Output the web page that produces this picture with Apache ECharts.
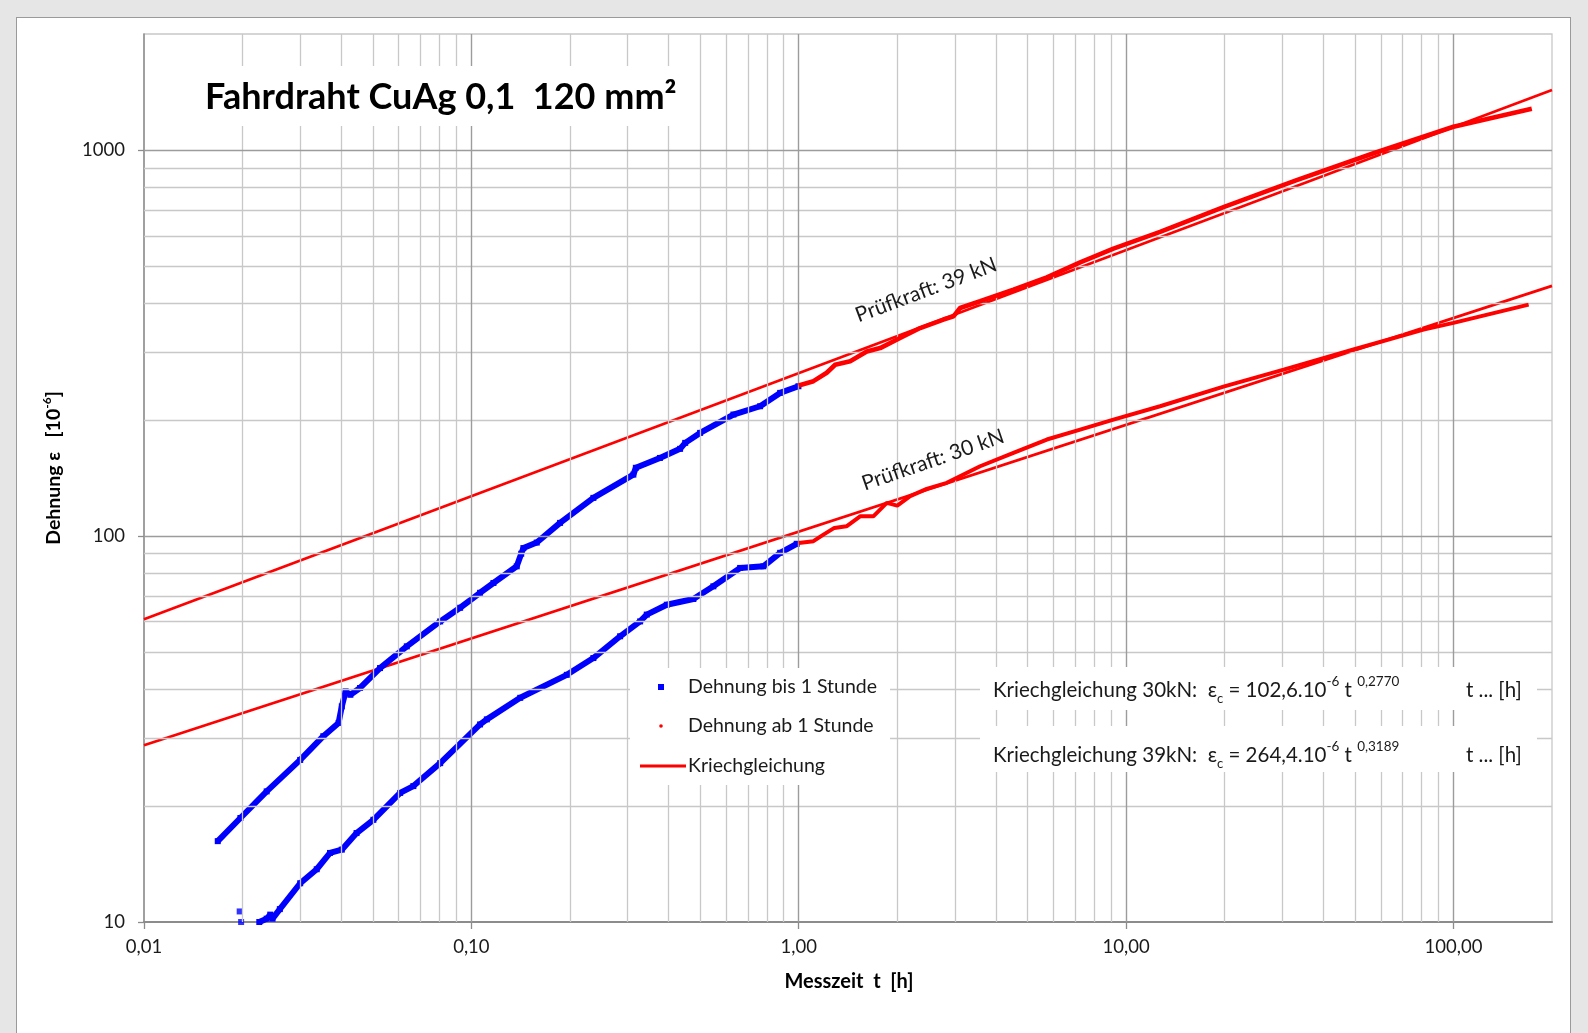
<!DOCTYPE html>
<html><head><meta charset="utf-8">
<script src="https://cdn.jsdelivr.net/npm/echarts@6/dist/echarts.min.js"></script>
<style>
html,body{margin:0;padding:0;width:1588px;height:1033px;overflow:hidden;background:#e6e6e6;}
#panel{position:absolute;left:16px;top:17px;width:1553px;height:1030px;background:#fff;border:1px solid #9a9a9a;}
#chart{position:absolute;left:0;top:0;width:1588px;height:1033px;}
</style></head><body>
<div id="panel"></div><div id="chart"></div>
<script>
// ---- axis ticks / labels ----
const xTicks = [0.01, 0.1, 1, 10, 100];
const xTickLabels = ['0,01', '0,10', '1,00', '10,00', '100,00'];
const yTicks = [10, 100, 1000];
const yTickLabels = ['10', '100', '1000'];
const xMinor = [0.02,0.03,0.04,0.05,0.06,0.07,0.08,0.09,0.2,0.3,0.4,0.5,0.6,0.7,0.8,0.9,2,3,4,5,6,7,8,9,20,30,40,50,60,70,80,90];
const xMajor = [0.1, 1, 10, 100];
const yMinor = [20,30,40,50,60,70,80,90,200,300,400,500,600,700,800,900];
const yMajor = [100, 1000];

// ---- data: [t (h), strain (1e-6)] ----
const blue39 = [[0.0168,16.2],[0.0197,18.6],[0.0237,21.8],[0.0300,26.3],[0.0353,30.3],[0.0393,32.8],[0.0402,36.2],[0.0413,39.6],[0.0427,38.8],[0.0457,40.4],[0.0526,45.5],[0.0635,51.8],[0.0803,60.1],[0.0924,65.2],[0.1063,71.3],[0.1168,75.6],[0.1376,83.5],[0.1420,90.0],[0.1442,93.1],[0.1584,96.2],[0.1866,108.2],[0.2359,125.6],[0.3125,144.3],[0.3180,150.3],[0.3767,159.4],[0.4341,168.3],[0.4500,174.4],[0.4997,185.1],[0.6317,206.5],[0.7621,217.0],[0.8774,235.0],[0.998,244.5]];
const blue30start = [[0.0196,10.65],[0.0198,10.0]];
const blue30 = [[0.0225,10.0],[0.0237,10.2],[0.0243,10.45],[0.0247,10.2],[0.0260,10.8],[0.0300,12.6],[0.0337,13.7],[0.0370,15.1],[0.0402,15.4],[0.0446,17.0],[0.0502,18.4],[0.0606,21.6],[0.0665,22.5],[0.0803,25.8],[0.1063,32.5],[0.1115,33.5],[0.141,38.1],[0.1957,43.7],[0.2359,48.3],[0.2847,55.0],[0.3277,60.1],[0.3434,62.6],[0.3954,66.4],[0.4766,68.7],[0.5486,74.1],[0.6622,82.7],[0.780,83.5],[0.8774,90.5],[0.986,95.5]];
const red39 = [[1.0,245.5],[1.109,252],[1.218,265],[1.292,278],[1.436,284],[1.614,301],[1.773,307],[2.04,326],[2.349,346],[2.767,364],[2.97,371],[3.111,390],[3.582,406],[4.528,435],[5.727,468],[7.24,512],[9.15,556],[12.7,614],[19.84,712],[33.2,836],[57.0,982],[100,1150],[173.5,1280]];
const red30 = [[1.0,96.0],[1.109,97.0],[1.19,100.9],[1.2845,105],[1.399,106],[1.54,112.5],[1.69,112.5],[1.858,121.9],[2.0,119.9],[2.19,126.9],[2.46,132.5],[2.834,137.4],[3.582,151.7],[4.528,164.3],[5.727,177.9],[7.24,188.8],[9.15,200.4],[12.7,217],[19.84,244],[30.3,270],[49.5,304.4],[81.0,342.8],[100,356.9],[169.7,398]];
const fit39 = [[0.01,60.9],[200,1432]];
const fit30 = [[0.01,28.7],[200,445]];

const FONT = 'Lato';
const chart = echarts.init(document.getElementById('chart'), null, {renderer:'canvas'});

function lbl(ticks, labels){
  return function(v){
    for (let i=0;i<ticks.length;i++){ if (Math.abs(ticks[i]-v)/ticks[i] < 1e-6) return labels[i]; }
    return '';
  };
}
const minorStyle = {color:'#c8c8c8', width:1.3, type:'solid'};
const majorStyle = {color:'#9c9c9c', width:1.4, type:'solid'};
const gridLines = [];
xMinor.forEach(v=>gridLines.push({xAxis:v, lineStyle:minorStyle}));
yMinor.forEach(v=>gridLines.push({yAxis:v, lineStyle:minorStyle}));
xMajor.forEach(v=>gridLines.push({xAxis:v, lineStyle:majorStyle}));
yMajor.forEach(v=>gridLines.push({yAxis:v, lineStyle:majorStyle}));

const blueName = 'Dehnung bis 1 Stunde';
const redName = 'Dehnung ab 1 Stunde';
const fitName = 'Kriechgleichung';
const eqRich = {
  a:{fontFamily:FONT, fontSize:20.5, lineHeight:30, fill:'#1a1a1a'},
  sub:{fontFamily:FONT, fontSize:13, lineHeight:13, verticalAlign:'bottom', fill:'#1a1a1a'},
  sup:{fontFamily:FONT, fontSize:13.5, lineHeight:14, verticalAlign:'top', fill:'#1a1a1a'}
};

const option = {
  animation:false,
  backgroundColor:'transparent',
  textStyle:{fontFamily:FONT},
  legend:{show:false},
  grid:{left:144, right:36, top:34, bottom:111, show:true, borderColor:'#c8c8c8', borderWidth:1.3, backgroundColor:'transparent'},
  xAxis:{type:'log', logBase:10, min:0.01, max:200,
    axisLine:{show:true, onZero:false, lineStyle:{color:'#8c8c8c', width:2}},
    axisTick:{show:true, inside:false, length:7, customValues:xTicks, lineStyle:{color:'#8c8c8c', width:1.3}},
    axisLabel:{show:true, customValues:xTicks, formatter:lbl(xTicks,xTickLabels), margin:16, fontSize:18.5, color:'#1a1a1a', fontFamily:FONT},
    splitLine:{show:false}, minorTick:{show:false}, minorSplitLine:{show:false}},
  yAxis:{type:'log', logBase:10, min:10, max:2000,
    axisLine:{show:true, onZero:false, lineStyle:{color:'#8c8c8c', width:1.5}},
    axisTick:{show:true, inside:false, length:6, customValues:yTicks, lineStyle:{color:'#8c8c8c', width:1.3}},
    axisLabel:{show:true, customValues:yTicks, formatter:lbl(yTicks,yTickLabels), margin:19, fontSize:18.5, color:'#1a1a1a', fontFamily:FONT},
    splitLine:{show:false}, minorTick:{show:false}, minorSplitLine:{show:false}},
  series:[
    {name:'grid', type:'line', data:[[1,100]], showSymbol:false, lineStyle:{width:0}, silent:true, z:1,
     markLine:{silent:true, symbol:['none','none'], label:{show:false}, animation:false, data:gridLines}},
    {name:fitName, type:'line', data:fit39, showSymbol:false, lineStyle:{color:'#ff0000', width:2.7}, z:3},
    {name:fitName, type:'line', data:fit30, showSymbol:false, lineStyle:{color:'#ff0000', width:2.7}, z:3},
    {name:blueName, type:'line', data:blue39, showSymbol:true, symbol:'rect', symbolSize:6, itemStyle:{color:'#0000ff'}, lineStyle:{color:'#0000ff', width:6}, z:4},
    {name:blueName, type:'line', data:blue30, showSymbol:true, symbol:'rect', symbolSize:6, itemStyle:{color:'#0000ff'}, lineStyle:{color:'#0000ff', width:6}, z:4},
    {name:blueName, type:'scatter', data:blue30start, symbol:'rect', symbolSize:6, itemStyle:{color:'#0000ff'}, z:4},
    {name:redName, type:'line', data:red39, showSymbol:false, lineStyle:{color:'#ff0000', width:4.6}, z:5},
    {name:redName, type:'line', data:red30, showSymbol:false, lineStyle:{color:'#ff0000', width:4}, z:5}
  ],
  graphic:[
    // title
    {type:'rect', z:100, shape:{x:195, y:66, width:498, height:60}, style:{fill:'#fff'}},
    {type:'text', z:101, x:205, y:97, style:{text:'Fahrdraht CuAg 0,1  120 mm²', fontFamily:FONT, fontWeight:'bold', fontSize:36, fill:'#000', align:'left', verticalAlign:'middle'}},
    // legend
    {type:'rect', z:100, shape:{x:630, y:668, width:260, height:117}, style:{fill:'#fff'}},
    {type:'rect', z:101, shape:{x:658, y:684, width:6, height:6}, style:{fill:'#0000ff'}},
    {type:'text', z:101, x:688, y:687, style:{text:blueName, fontFamily:FONT, fontSize:19.5, fill:'#1a1a1a', verticalAlign:'middle'}},
    {type:'circle', z:101, shape:{cx:661, cy:726, r:1.8}, style:{fill:'#ff0000'}},
    {type:'text', z:101, x:688, y:726, style:{text:redName, fontFamily:FONT, fontSize:19.5, fill:'#1a1a1a', verticalAlign:'middle'}},
    {type:'line', z:101, shape:{x1:640, y1:766, x2:686, y2:766}, style:{stroke:'#ff0000', lineWidth:3}},
    {type:'text', z:101, x:688, y:766, style:{text:fitName, fontFamily:FONT, fontSize:19.5, fill:'#1a1a1a', verticalAlign:'middle'}},
    // equations
    {type:'rect', z:100, shape:{x:980, y:667, width:557, height:43}, style:{fill:'#fff'}},
    {type:'rect', z:100, shape:{x:980, y:726, width:557, height:46}, style:{fill:'#fff'}},
    {type:'text', z:101, x:993, y:690, style:{text:'{a|Kriechgleichung 30kN:  ε}{sub|c}{a| = 102,6.10}{sup|-6}{a| t }{sup|0,2770}', verticalAlign:'middle', rich:eqRich}},
    {type:'text', z:101, x:1466, y:690, style:{text:'t ... [h]', fontFamily:FONT, fontSize:20.5, fill:'#1a1a1a', verticalAlign:'middle'}},
    {type:'text', z:101, x:993, y:755, style:{text:'{a|Kriechgleichung 39kN:  ε}{sub|c}{a| = 264,4.10}{sup|-6}{a| t }{sup|0,3189}', verticalAlign:'middle', rich:eqRich}},
    {type:'text', z:101, x:1466, y:755, style:{text:'t ... [h]', fontFamily:FONT, fontSize:20.5, fill:'#1a1a1a', verticalAlign:'middle'}},
    // Prüfkraft labels
    {type:'text', z:101, x:926, y:290, rotation:20.6*Math.PI/180, style:{text:'Prüfkraft: 39 kN', fontFamily:FONT, fontSize:21, fill:'#1a1a1a', align:'center', verticalAlign:'middle'}},
    {type:'text', z:101, x:933, y:460, rotation:19*Math.PI/180, style:{text:'Prüfkraft: 30 kN', fontFamily:FONT, fontSize:21, fill:'#1a1a1a', align:'center', verticalAlign:'middle'}},
    // axis names
    {type:'text', z:101, x:54, y:468, rotation:Math.PI/2, style:{text:'{b|Dehnung ε   }{n|[10}{s|-6}{n|]}', align:'center', verticalAlign:'middle',
      rich:{b:{fontFamily:FONT, fontWeight:'bold', fontSize:19.5, lineHeight:26, fill:'#000'}, n:{fontFamily:FONT, fontWeight:'bold', fontSize:19.5, lineHeight:26, fill:'#000'}, s:{fontFamily:FONT, fontWeight:'bold', fontSize:12, lineHeight:12, verticalAlign:'top', fill:'#000'}}}},
    {type:'text', z:101, x:849, y:982, style:{text:'Messzeit  t  [h]', fontFamily:FONT, fontWeight:'bold', fontSize:20, fill:'#000', align:'center', verticalAlign:'middle'}}
  ]
};
chart.setOption(option);
</script>
</body></html>
